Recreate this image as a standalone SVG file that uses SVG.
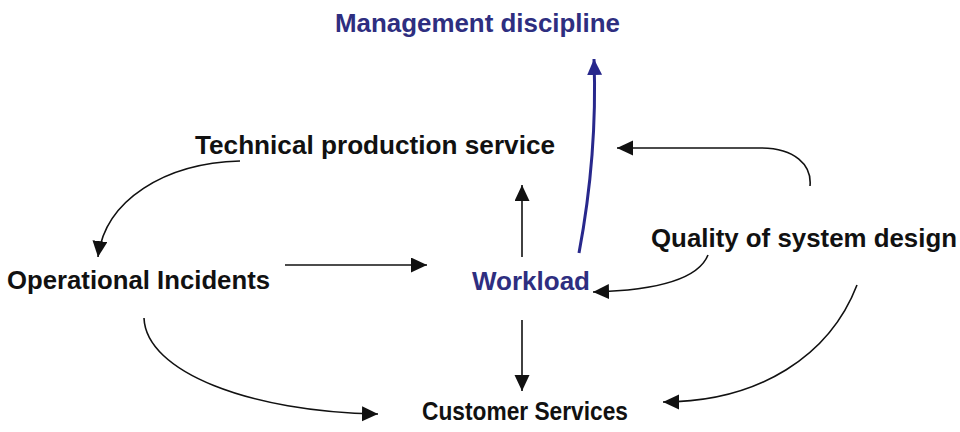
<svg xmlns="http://www.w3.org/2000/svg" width="960" height="432" viewBox="0 0 960 432">
<style>
text{font-family:"Liberation Sans",Arial,sans-serif;font-weight:bold;font-size:26px;fill:#111}
.blue{fill:#2e2e80}
.c{fill:none;stroke:#111;stroke-width:1.6}
.cb{fill:none;stroke:#28288c;stroke-width:3}
</style>
<defs>
<marker id="ah" markerUnits="userSpaceOnUse" markerWidth="17" markerHeight="16" refX="16" refY="7.5" orient="auto" viewBox="0 0 17 16">
<path d="M0,0 L16,7.5 L0,15 z" fill="#111"/>
</marker>
<marker id="ahb" markerUnits="userSpaceOnUse" markerWidth="17" markerHeight="16" refX="16" refY="7.5" orient="auto" viewBox="0 0 17 16">
<path d="M0,0 L16,7.5 L0,15 z" fill="#28288c"/>
</marker>
</defs>
<rect width="960" height="432" fill="#fff"/>
<g id="connectors">
<path class="c" d="M240,161 C165,163 105,200 98,257" marker-end="url(#ah)"/>
<path class="c" d="M285,265 L427,265" marker-end="url(#ah)"/>
<path class="c" d="M522,257 L522,185" marker-end="url(#ah)"/>
<path class="cb" d="M579,253 C588,205 597,140 594,59" marker-end="url(#ahb)"/>
<path class="c" d="M810,186 C812,165 795,148 760,148 L617,148" marker-end="url(#ah)"/>
<path class="c" d="M708,255 C700,275 670,290 593,292" marker-end="url(#ah)"/>
<path class="c" d="M522,320 L522,391" marker-end="url(#ah)"/>
<path class="c" d="M144,318 C146,372 250,412 378,414" marker-end="url(#ah)"/>
<path class="c" d="M857,285 C830,355 760,402 663,402" marker-end="url(#ah)"/>
</g>
<g id="management"><text class="blue" x="335" y="32" textLength="285" lengthAdjust="spacingAndGlyphs">Management discipline</text></g>
<g id="technical"><text x="195" y="154" textLength="360" lengthAdjust="spacingAndGlyphs">Technical production service</text></g>
<g id="operational"><text x="7" y="289" textLength="263" lengthAdjust="spacingAndGlyphs">Operational Incidents</text></g>
<g id="workload"><text class="blue" x="472" y="290" textLength="118" lengthAdjust="spacingAndGlyphs">Workload</text></g>
<g id="quality"><text x="651" y="247" textLength="306" lengthAdjust="spacingAndGlyphs">Quality of system design</text></g>
<g id="customer"><text x="422" y="420" textLength="206" lengthAdjust="spacingAndGlyphs">Customer Services</text></g>
</svg>
